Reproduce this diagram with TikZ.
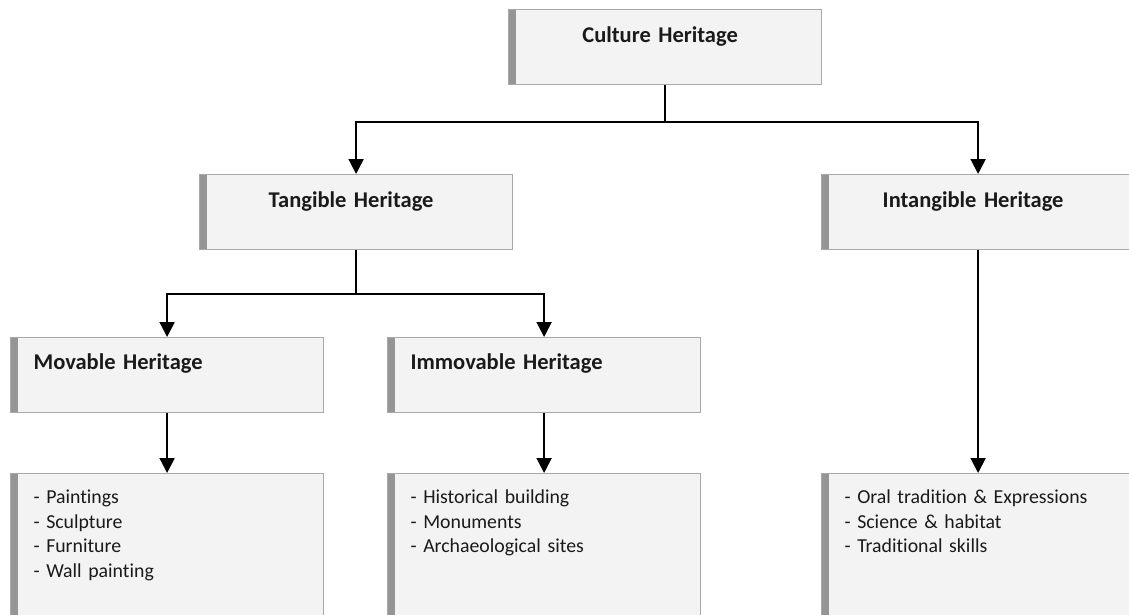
\documentclass[tikz,border=0pt]{standalone}
\usepackage{fontspec}
\setmainfont[Ligatures=NoCommon]{Carlito}
\usepackage{xcolor}
\usetikzlibrary{positioning, arrows.meta}
\definecolor{boxcol}{HTML}{F3F3F3}
\definecolor{edgecol}{HTML}{A8A8A8}
\definecolor{barcol}{HTML}{959595}
\definecolor{inkcol}{HTML}{1A1A1A}

\begin{document}
\begin{tikzpicture}[x=1pt, y=-1pt,
  box/.style={draw=edgecol, line width=1.2pt, fill=boxcol, anchor=north west, text=inkcol,
    inner xsep=23pt, inner ysep=0pt, text width=267pt,
    path picture={\fill[barcol] (path picture bounding box.north west) rectangle ([xshift=7pt]path picture bounding box.south west);}},
  title/.style={box, align=center, text height=33pt, text depth=42pt, font=\fontsize{22.5}{27}\selectfont\bfseries,
    execute at end node={\hspace*{10pt}}},
  head/.style={box, align=left, text height=32pt, text depth=43pt, font=\fontsize{22.5}{27}\selectfont\bfseries},
  list/.style={box, align=left, text height=30pt, text depth=120pt, font=\fontsize{19.8}{24.6}\selectfont},
  link/.style={line width=2pt, -{Triangle[width=15pt, length=15pt]}}]
\useasboundingbox (0,0) rectangle (1129,615);

% Row 1
\node[title] (culture) at (508,9) {Culture Heritage};

% Row 2
\node[title] (tangible) at (199,174) {Tangible Heritage};
\node[title] (intangible) at (821,174) {Intangible Heritage};

% Row 3
\node[head] (movable) at (10,337) {Movable Heritage};
\node[head] (immovable) at (387,337) {Immovable Heritage};

% Row 4
\node[list] (movlist) at (10,473) {- Paintings\\- Sculpture\\- Furniture\\- Wall painting};
\node[list] (immlist) at (387,473) {- Historical building\\- Monuments\\- Archaeological sites};
\node[list] (intlist) at (821,473) {- Oral tradition \& Expressions\\- Science \& habitat\\- Traditional skills};

% connectors
\draw[link] (culture.south) -- ++(0,37) -| (tangible.north);
\draw[link] (culture.south) -- ++(0,37) -| (intangible.north);
\draw[link] (tangible.south) -- ++(0,44) -| (movable.north);
\draw[link] (tangible.south) -- ++(0,44) -| (immovable.north);
\draw[link] (movable) -- (movlist);
\draw[link] (immovable) -- (immlist);
\draw[link] (intangible) -- (intlist);
\end{tikzpicture}
\end{document}
